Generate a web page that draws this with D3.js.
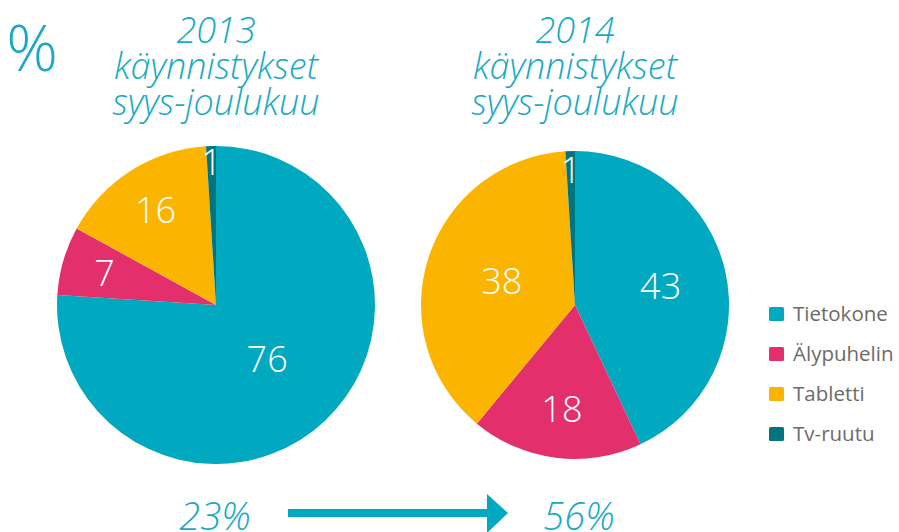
<!DOCTYPE html>
<html>
<head>
<meta charset="utf-8">
<script src="https://cdn.jsdelivr.net/npm/d3@7/dist/d3.min.js"></script>
<style>
  body { margin: 0; background: #fff; }
  text { font-family: "Open Sans", Lato, sans-serif; }
</style>
</head>
<body>
<div id="chart"></div>
<script>
// Data
const categories = ['Tietokone', 'Älypuhelin', 'Tabletti', 'Tv-ruutu'];
const values2013 = [76, 7, 16, 1];
const values2014 = [43, 18, 38, 1];
const titles2013 = ['2013', 'käynnistykset', 'syys-joulukuu'];
const titles2014 = ['2014', 'käynnistykset', 'syys-joulukuu'];
const footer = ['23%', '56%'];

const colors = ['#00a8c0', '#e3306c', '#fbb500', '#00757f'];
const teal = '#1aa9c3';

const w = 899;
const h = 532;

const svg = d3.select('#chart')
  .append('svg')
  .attr('width', w)
  .attr('height', h);

const color = d3.scaleOrdinal().domain(categories).range(colors);

const pie = d3.pie()
  .sort(null)
  .value(d => d.value);

// Draw one pie with its title
const drawPie = (values, titles, cx, cy, r, labelR) => {
  const data = categories.map((c, i) => ({ cat: c, value: values[i] }));
  const arcs = pie(data);
  const arc = d3.arc().innerRadius(0).outerRadius(r);

  const g = svg.append('g')
    .attr('transform', `translate(${cx},${cy})`);

  g.selectAll('path')
    .data(arcs)
    .enter()
    .append('path')
    .attr('d', arc)
    .attr('fill', d => color(d.data.cat));

  g.selectAll('text')
    .data(arcs)
    .enter()
    .append('text')
    .attr('transform', (d, i) => {
      const a = d3.arc().innerRadius(0).outerRadius(2 * r * labelR[i]);
      return `translate(${a.centroid(d)})`;
    })
    .attr('text-anchor', 'middle')
    .attr('dy', '0.36em')
    .attr('fill', '#fff')
    .attr('font-size', 36)
    .attr('font-weight', 300)
    .text(d => d.data.value);

  svg.append('text')
    .attr('x', cx)
    .attr('y', 43)
    .attr('text-anchor', 'middle')
    .attr('fill', teal)
    .attr('font-size', 36)
    .attr('font-weight', 300)
    .attr('font-style', 'italic')
    .selectAll('tspan')
    .data(titles)
    .enter()
    .append('tspan')
    .attr('x', cx)
    .attr('dy', (d, i) => i === 0 ? 0 : 36)
    .text(d => d);
};

drawPie(values2013, titles2013, 216, 305, 159, [0.47, 0.73, 0.71, 0.9]);
drawPie(values2014, titles2014, 575, 305, 154, [0.57, 0.68, 0.5, 0.88]);

// Percent sign
svg.append('text')
  .attr('x', 32)
  .attr('y', 71)
  .attr('text-anchor', 'middle')
  .attr('fill', teal)
  .attr('font-size', 64)
  .attr('font-weight', 300)
  .text('%');

// Legend
const legend = svg.append('g')
  .attr('transform', 'translate(769,307)');

const item = legend.selectAll('g')
  .data(categories)
  .enter()
  .append('g')
  .attr('transform', (d, i) => `translate(0,${i * 40})`);

item.append('rect')
  .attr('width', 15)
  .attr('height', 14)
  .attr('rx', 1.5)
  .attr('fill', d => color(d));

item.append('text')
  .attr('x', 24)
  .attr('y', 14)
  .attr('fill', '#6d6a69')
  .attr('font-size', 20.5)
  .text(d => d);

// Footer: shares and arrow
svg.selectAll('.footer')
  .data(footer)
  .enter()
  .append('text')
  .attr('class', 'footer')
  .attr('x', (d, i) => i === 0 ? 215 : 579)
  .attr('y', 530)
  .attr('text-anchor', 'middle')
  .attr('fill', teal)
  .attr('font-size', 38)
  .attr('font-weight', 300)
  .attr('font-style', 'italic')
  .text(d => d);

svg.append('rect')
  .attr('x', 288)
  .attr('y', 509)
  .attr('width', 202)
  .attr('height', 8)
  .attr('fill', '#00a8c0');

svg.append('path')
  .attr('d', 'M487,494 L508,513 L487,533 Z')
  .attr('fill', '#00a8c0');
</script>
</body>
</html>
